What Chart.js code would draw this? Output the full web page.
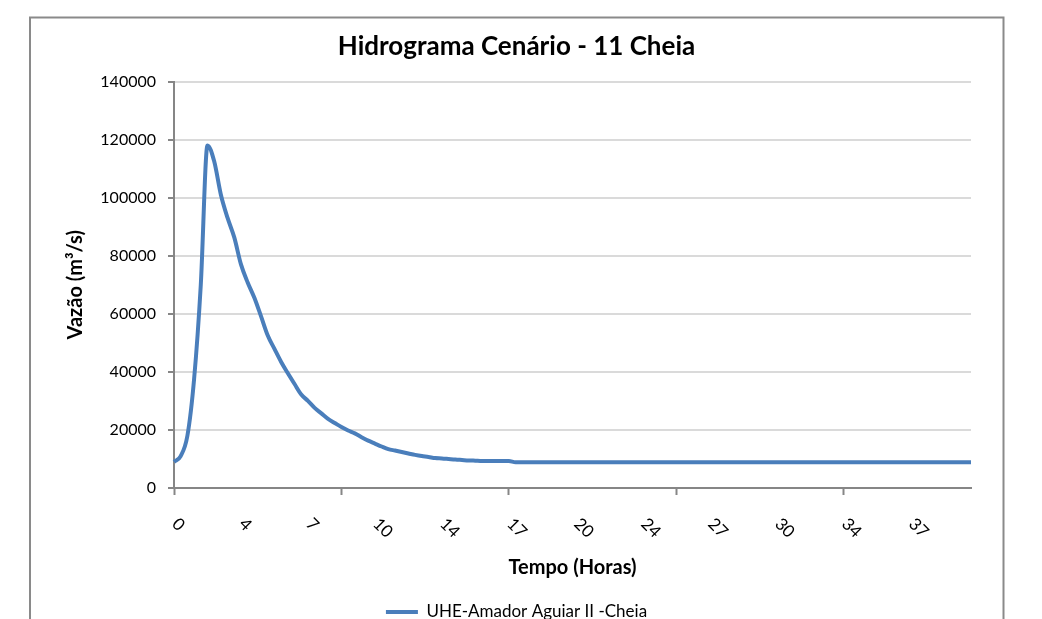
<!DOCTYPE html>
<html><head><meta charset="utf-8">
<script src="https://cdn.jsdelivr.net/npm/chart.js@4.4.1/dist/chart.umd.min.js"></script>
<style>html,body{margin:0;padding:0;background:#fff;overflow:hidden;width:1042px;height:619px}canvas{display:block}</style>
</head><body>
<canvas id="c" width="1042" height="640"></canvas>
<script>
const chartTitle = 'Hidrograma Cenário - 11 Cheia';
const seriesName = 'UHE-Amador Aguiar II -Cheia';
const xTitle = 'Tempo (Horas)';
const yTitle = 'Vazão (m³/s)';
const timeTickLabels = ['0','4','7','10','14','17','20','24','27','30','34','37'];
const yTickValues = [0, 20000, 40000, 60000, 80000, 100000, 120000, 140000];
const flow = [
  9000, 11000, 18000, 37500, 70000, 118000, 112500, 101000, 93000, 86300,
  77000, 70800, 65500, 59100, 52500, 47900, 43400, 39500, 35800, 32200,
  30000, 27600, 25700, 23800, 22400, 21000, 19800, 18800, 17500, 16300,
  15300, 14300, 13400, 12900, 12400, 11900, 11400, 11000, 10700, 10300,
  10200, 10000, 9800, 9650, 9500, 9400, 9300, 9300, 9300, 9300,
  9300, 8900, 8900, 8900, 8900, 8900, 8900, 8900, 8900, 8900,
  8900, 8900, 8900, 8900, 8900, 8900, 8900, 8900, 8900, 8900,
  8900, 8900, 8900, 8900, 8900, 8900, 8900, 8900, 8900, 8900,
  8900, 8900, 8900, 8900, 8900, 8900, 8900, 8900, 8900, 8900,
  8900, 8900, 8900, 8900, 8900, 8900, 8900, 8900, 8900, 8900,
  8900, 8900, 8900, 8900, 8900, 8900, 8900, 8900, 8900, 8900,
  8900, 8900, 8900, 8900, 8900, 8900, 8900, 8900, 8900, 8900
];
const steps = flow.map((_, i) => i);
const LABEL_EVERY = 10;
const TICK_EVERY = 25;

const FONT = 'Lato, "Open Sans", sans-serif';
const AXIS_GRAY = '#868686';

const frame = {
  id: 'frame',
  beforeDraw(chart) {
    const ctx = chart.ctx;
    ctx.save();
    ctx.fillStyle = '#fff';
    ctx.fillRect(0, 0, chart.width, chart.height);
    ctx.strokeStyle = '#8a8a8a';
    ctx.lineWidth = 2;
    ctx.strokeRect(30, 17.5, 973.5, 700);
    ctx.restore();
  }
};

const rotatedXLabels = {
  id: 'rotatedXLabels',
  afterDraw(chart) {
    const xs = chart.scales.x;
    const ctx = chart.ctx;
    ctx.save();
    ctx.font = '17px ' + FONT;
    ctx.fillStyle = '#000';
    ctx.textAlign = 'left';
    ctx.textBaseline = 'middle';
    timeTickLabels.forEach((t, k) => {
      const px = xs.getPixelForValue(k * LABEL_EVERY);
      ctx.save();
      ctx.translate(px + 1, xs.top + 33);
      ctx.rotate(Math.PI / 4);
      ctx.fillText(t, 0, 0);
      ctx.restore();
    });
    ctx.restore();
  }
};

new Chart(document.getElementById('c'), {
  type: 'line',
  data: {
    labels: steps,
    datasets: [{
      label: seriesName,
      data: flow,
      borderColor: '#4a7ebb',
      backgroundColor: '#4a7ebb',
      borderWidth: 4,
      pointRadius: 0,
      cubicInterpolationMode: 'monotone',
      fill: false,
      yAxisID: 'y'
    }]
  },
  options: {
    responsive: false,
    animation: false,
    events: [],
    layout: { padding: { top: 16, left: 30, right: 39, bottom: 9.5 } },
    plugins: {
      tooltip: { enabled: false },
      title: {
        display: true,
        text: chartTitle,
        color: '#000',
        font: { family: FONT, size: 26, weight: 'bold' },
        padding: { top: 15.4, bottom: 18.9 }
      },
      legend: {
        display: true,
        position: 'bottom',
        labels: {
          color: '#000',
          font: { family: FONT, size: 17 },
          usePointStyle: true,
          pointStyle: 'line',
          pointStyleWidth: 32,
          padding: 10
        }
      }
    },
    scales: {
      x: {
        type: 'category',
        offset: false,
        ticks: { display: false, autoSkip: false },
        grid: {
          drawOnChartArea: false,
          drawTicks: true,
          tickLength: 7,
          tickColor: c => (c.index % TICK_EVERY === 0 ? AXIS_GRAY : 'rgba(0,0,0,0)'),
          tickWidth: c => (c.index % TICK_EVERY === 0 ? 2 : 0)
        },
        border: { color: AXIS_GRAY, width: 2 },
        title: {
          display: true,
          text: xTitle,
          color: '#000',
          font: { family: FONT, size: 20, weight: 'bold' },
          padding: { top: 0, bottom: 13.5 }
        },
        afterFit: s => { s.height = 105.5; }
      },
      y: {
        type: 'linear',
        position: 'left',
        min: 0,
        max: 140000,
        afterBuildTicks: s => { s.ticks = yTickValues.map(v => ({ value: v })); },
        ticks: {
          color: '#000',
          font: { family: FONT, size: 16 },
          padding: 12,
          callback: v => String(v)
        },
        grid: {
          color: '#dadada',
          lineWidth: 2,
          tickColor: AXIS_GRAY,
          tickLength: 6,
          tickWidth: 2
        },
        border: { color: AXIS_GRAY, width: 2 },
        title: {
          display: true,
          text: yTitle,
          color: '#000',
          font: { family: FONT, size: 20, weight: 'bold' },
          padding: { top: 34, bottom: 0 }
        },
        afterFit: s => { s.width = 144; }
      },
      yR: {
        type: 'linear',
        position: 'right',
        display: true,
        ticks: { display: false },
        grid: { display: false },
        border: { display: false },
        afterFit: s => { s.width = 32; }
      }
    }
  },
  plugins: [frame, rotatedXLabels]
});
</script>
</body></html>
